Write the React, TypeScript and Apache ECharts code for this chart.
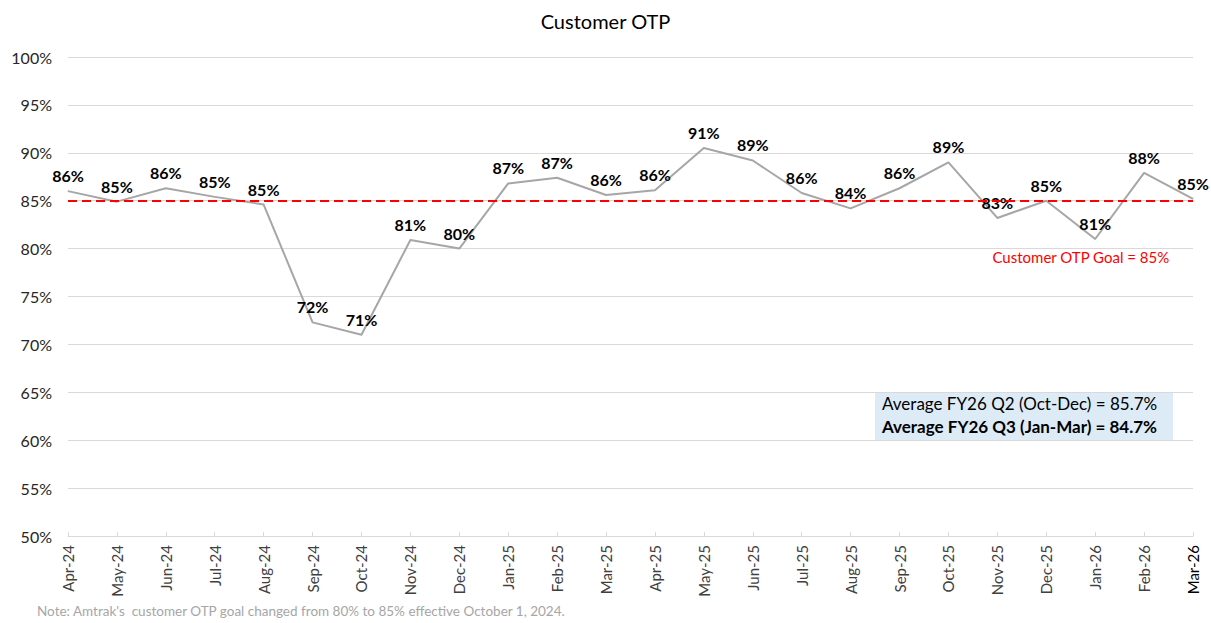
import React, { useEffect, useRef } from "react";
import * as echarts from "echarts";

const categories = [
  "Apr-24", "May-24", "Jun-24", "Jul-24", "Aug-24", "Sep-24", "Oct-24", "Nov-24",
  "Dec-24", "Jan-25", "Feb-25", "Mar-25", "Apr-25", "May-25", "Jun-25", "Jul-25",
  "Aug-25", "Sep-25", "Oct-25", "Nov-25", "Dec-25", "Jan-26", "Feb-26", "Mar-26",
];
const otpValues = [
  86.0, 84.9, 86.3, 85.4, 84.6, 72.3, 71.0, 80.9,
  80.0, 86.8, 87.4, 85.6, 86.1, 90.5, 89.2, 85.8,
  84.2, 86.3, 89.0, 83.2, 85.0, 81.0, 87.9, 85.2,
];
const goalValue = 85;
const goalLabel = "Customer OTP Goal = 85%";
const avgLines = [
  "Average FY26 Q2 (Oct-Dec) = 85.7%",
  "Average FY26 Q3 (Jan-Mar) = 84.7%",
];
const noteText = "Note: Amtrak's  customer OTP goal changed from 80% to 85% effective October 1, 2024.";
const titleText = "Customer OTP";

const FONT = "Lato, 'Open Sans', sans-serif";

export default function App() {
  const ref = useRef<HTMLDivElement>(null);
  useEffect(() => {
    document.body.style.margin = "0";
    const chart = echarts.init(ref.current!, null, { renderer: "svg" });
    const lastIdx = categories.length - 1;
    chart.setOption({
      animation: false,
      backgroundColor: "#ffffff",
      textStyle: { fontFamily: FONT },
      title: {
        text: titleText,
        left: "center",
        top: 6,
        textStyle: { fontFamily: FONT, fontSize: 20, fontWeight: "normal", color: "#000000" },
      },
      grid: { left: 68, right: 18, top: 57, bottom: 87 },
      xAxis: {
        type: "category",
        data: categories,
        boundaryGap: false,
        axisLine: { lineStyle: { color: "#D9D9D9", width: 1 } },
        axisTick: { show: true, inside: true, length: 4, lineStyle: { color: "#D9D9D9" } },
        axisLabel: {
          rotate: 90,
          margin: 9,
          fontSize: 15,
          color: "#404040",
          fontFamily: FONT,
          interval: 0,
          formatter: (v: string, i: number) => (i === lastIdx ? `{last|${v}}` : v),
          rich: { last: { color: "#000000", fontSize: 15, fontFamily: FONT } },
        },
        splitLine: { show: false },
      },
      yAxis: {
        type: "value",
        min: 50,
        max: 100,
        interval: 5,
        axisLine: { show: false },
        axisTick: { show: false },
        axisLabel: {
          formatter: (v: number) => `${v}%`,
          fontSize: 16,
          color: "#262626",
          margin: 16,
          fontFamily: FONT,
        },
        splitLine: { lineStyle: { color: "#D9D9D9", width: 1 } },
      },
      series: [
        {
          type: "line",
          data: otpValues,
          symbol: "circle",
          symbolSize: 1,
          showSymbol: true,
          itemStyle: { color: "#A6A6A6" },
          lineStyle: { color: "#A6A6A6", width: 2 },
          label: {
            show: true,
            position: "top",
            distance: 7,
            formatter: (p: any) => `${Math.round(p.value)}%`,
            fontSize: 16,
            fontWeight: "bold",
            color: "#000000",
            fontFamily: FONT,
          },
          markLine: {
            silent: true,
            symbol: "none",
            label: { show: false },
            lineStyle: { color: "#FF0000", type: [9, 5], width: 2 },
            data: [{ yAxis: goalValue }],
          },
          z: 3,
        },
      ],
      graphic: [
        {
          type: "text",
          right: 41,
          top: 249,
          style: {
            text: goalLabel,
            fill: "#FF0000",
            fontSize: 15,
            fontFamily: FONT,
          },
        },
        {
          type: "group",
          left: 875,
          top: 392,
          children: [
            {
              type: "rect",
              shape: { x: 0, y: 0, width: 298, height: 48 },
              style: { fill: "#DDEBF7" },
            },
            {
              type: "text",
              x: 7,
              y: 3,
              style: {
                text: avgLines[0],
                fill: "#000000",
                fontSize: 17,
                fontFamily: FONT,
              },
            },
            {
              type: "text",
              x: 7,
              y: 26,
              style: {
                text: avgLines[1],
                fill: "#000000",
                fontSize: 17,
                fontWeight: "bold",
                fontFamily: FONT,
              },
            },
          ],
        },
        {
          type: "text",
          left: 37,
          top: 604,
          style: {
            text: noteText,
            fill: "#A6A6A6",
            fontSize: 13.5,
            fontFamily: FONT,
          },
        },
      ],
    });
    return () => chart.dispose();
  }, []);
  return <div ref={ref} style={{ width: 1211, height: 623 }} />;
}
